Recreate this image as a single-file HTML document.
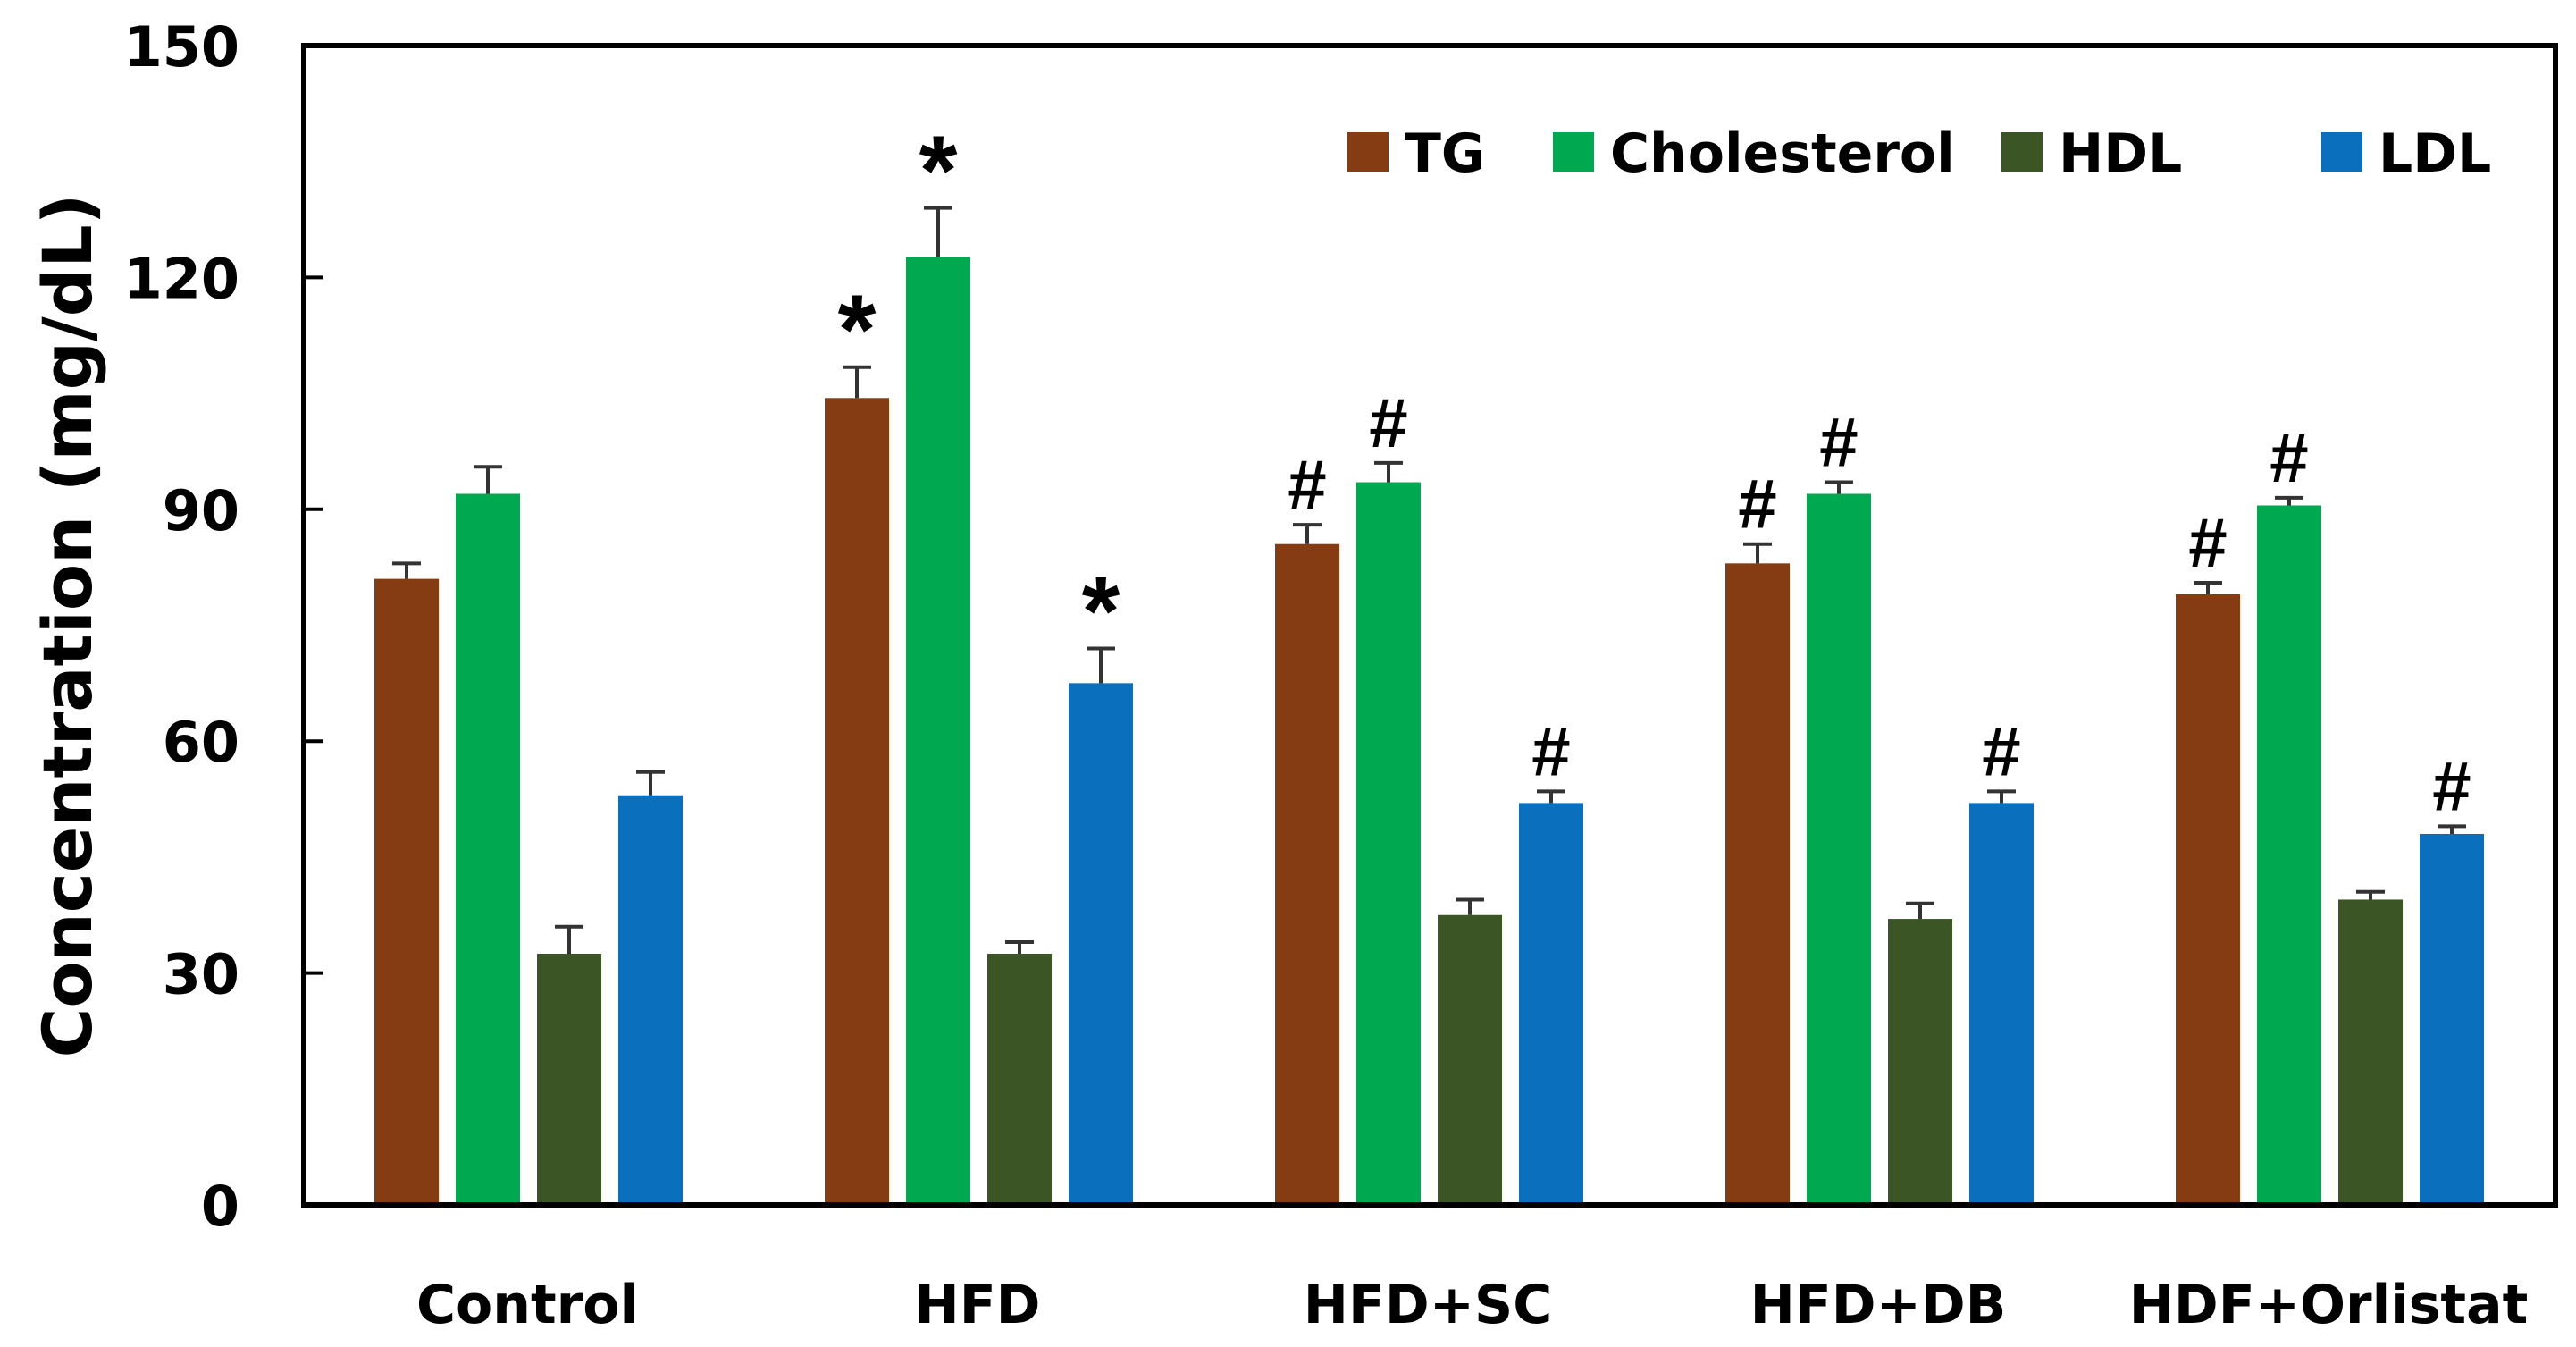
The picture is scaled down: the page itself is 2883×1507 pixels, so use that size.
<!DOCTYPE html>
<html><head><meta charset="utf-8"><style>
html,body{margin:0;padding:0;background:#fff}
svg{display:block}
text{font-family:"DejaVu Sans","Liberation Sans",sans-serif;font-weight:bold;fill:#000}
text.mk{font-family:"Liberation Sans",sans-serif}
</style></head><body>
<svg id="chart" width="2883" height="1507" viewBox="0 0 2883 1507">
<rect x="0" y="0" width="2883" height="1507" fill="#fff"/>
<g id="bars"></g>
<rect x="340" y="51" width="2520" height="1297" fill="none" stroke="#000" stroke-width="6"/>
<g id="axis"></g>
<text x="102" y="700" font-size="76" text-anchor="middle" transform="rotate(-90 102 700)">Concentration (mg/dL)</text>
<g id="legend"></g>
</svg>
<script>
const categories=["Control","HFD","HFD+SC","HFD+DB","HDF+Orlistat"];
const seriesNames=["TG","Cholesterol","HDL","LDL"];
const tgValues=[81,104.4,85.5,83,79];
const cholValues=[92,122.6,93.5,92,90.5];
const hdlValues=[32.5,32.5,37.5,37,39.5];
const ldlValues=[53,67.5,52,52,48];
const tgErr=[2,4,2.5,2.5,1.5];
const cholErr=[3.5,6.4,2.5,1.5,1];
const hdlErr=[3.5,1.5,2,2,1];
const ldlErr=[3,4.5,1.5,1.5,1];
const tgMarks=["","*","#","#","#"];
const cholMarks=["","*","#","#","#"];
const hdlMarks=["","","","",""];
const ldlMarks=["","*","#","#","#"];
const yTicks=[0,30,60,90,120,150];
const colors=["#863c12","#00a84f","#3b5524","#0a6fbd"];
const values=[tgValues,cholValues,hdlValues,ldlValues];
const errs=[tgErr,cholErr,hdlErr,ldlErr];
const marks=[tgMarks,cholMarks,hdlMarks,ldlMarks];
const NS="http://www.w3.org/2000/svg";
const y0=1348,yTop=51,vmax=150;
const y=v=>y0-(v/vmax)*(y0-yTop);
const groupCenter=i=>590+i*504;
const barX=(i,s)=>groupCenter(i)-171+s*91;
const bw=72;
function mk(tag,attrs,parent){const e=document.createElementNS(NS,tag);for(const k in attrs)e.setAttribute(k,attrs[k]);parent.appendChild(e);return e;}
const bars=document.getElementById('bars');
categories.forEach((c,i)=>{
 values.forEach((arr,s)=>{
  const x=barX(i,s),v=arr[i],e=errs[s][i];
  const r=mk('rect',{x:x,y:y(v),width:bw,height:y0-y(v),fill:colors[s]},bars);
  
  
  const cx=x+bw/2;
  const el=mk('path',{d:`M${cx} ${y(v)}V${y(v+e)}M${cx-16} ${y(v+e)}H${cx+16}`,stroke:'#333',"stroke-width":4,fill:'none'},bars);
  
  
  const m=marks[s][i];
  if(m){
   const t=mk('text',{class:'mk',x:cx,y:m=='*'?y(v+e)-4:y(v+e)-18,"font-size":m=='*'?110:78,"font-weight":m=='*'?'bold':'normal',"text-anchor":'middle'},bars);
   t.textContent=m;
   
   
  }
 });
 const t=mk('text',{x:groupCenter(i),y:1480,"font-size":60,"text-anchor":'middle'},bars);
 t.textContent=c;
 
 
});
const ax=document.getElementById('axis');
yTicks.forEach(v=>{
 const l=mk('line',{x1:340,x2:362,y1:y(v),y2:y(v),stroke:'#000',"stroke-width":4},ax);
 
 
 const t=mk('text',{x:268,y:y(v)+23,"font-size":62,"text-anchor":'end'},ax);
 t.textContent=v;
 
 
});
const lg=document.getElementById('legend');
const lgX=[1508,1738,2240,2598];
seriesNames.forEach((n,s)=>{
 const r=mk('rect',{x:lgX[s],y:148,width:46,height:44,fill:colors[s]},lg);
 
 
 const t=mk('text',{x:lgX[s]+64,y:192,"font-size":60},lg);
 t.textContent=n;
 
 
});
</script>
</body></html>
